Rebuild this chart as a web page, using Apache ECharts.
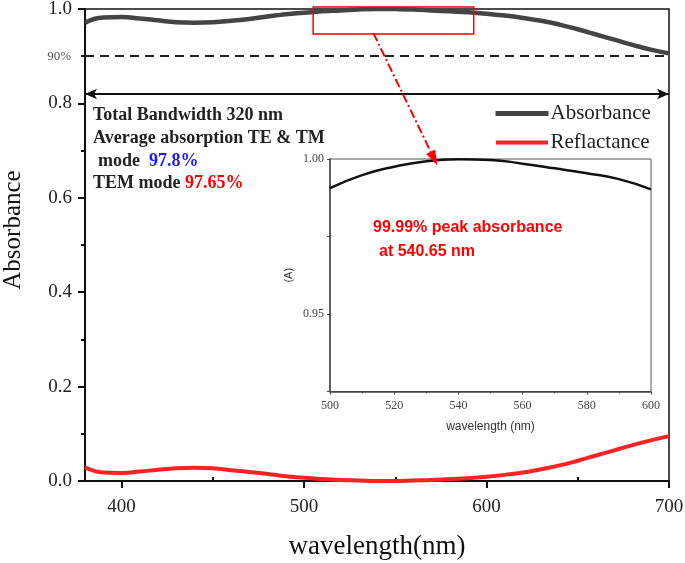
<!DOCTYPE html>
<html><head><meta charset="utf-8">
<script src="https://cdn.jsdelivr.net/npm/echarts@6/dist/echarts.min.js"></script>
<style>html,body{margin:0;padding:0;background:#fff}#c{width:685px;height:563px}</style>
</head><body><div id="c"></div>
<script>
// ---- data ----
const wavelengths = [380,390,400,410,420,430,440,450,460,470,480,490,500,510,520,530,540,550,560,570,580,590,600,610,620,630,640,650,660,670,680,690,700];
const absorbance  = [0.971,0.982,0.983,0.980,0.976,0.972,0.971,0.972,0.975,0.979,0.984,0.989,0.992,0.995,0.997,0.9992,1.000,0.9998,0.999,0.997,0.995,0.993,0.990,0.986,0.981,0.975,0.967,0.957,0.946,0.935,0.924,0.914,0.906];
const reflectance = [0.029,0.018,0.017,0.020,0.024,0.027,0.028,0.027,0.023,0.019,0.015,0.010,0.007,0.004,0.002,0.001,0.000,0.000,0.001,0.002,0.004,0.006,0.009,0.013,0.018,0.025,0.033,0.043,0.054,0.065,0.076,0.086,0.095];
const insetWavelengths = [500,510,520,530,540,550,560,570,580,590,600];
const insetAbsorbance  = [0.9906,0.9948,0.9975,0.9993,0.9999,0.9997,0.9985,0.9970,0.9954,0.9935,0.9902];
const xTickValues = [400,500,600,700];
const xMinorTickValues = [450,550,650];
const threshold = 0.9;
const bandwidthLevel = 0.824;
const zoomBox = {x0:505, x1:593, y0:0.947, y1:1.004};
const arrowFrom = [538, 0.949];
const arrowTo = [573, 0.669];

const serif = 'Liberation Serif';
const sans = 'Liberation Sans';
const chart = echarts.init(document.getElementById('c'));

const option = {
  animation:false,
  backgroundColor:'#fff',
  grid:[
    {left:85, right:16, top:9, bottom:82, show:true, borderColor:'#111', borderWidth:1.5, backgroundColor:'transparent', outerBoundsMode:'none', containLabel:false},
    {left:330, top:159, width:321, height:232.5, show:true, borderColor:'#555', borderWidth:1, backgroundColor:'#fff', outerBoundsMode:'none', containLabel:false}
  ],
  legend:{
    orient:'vertical', left:490, top:98, itemWidth:53, itemHeight:5, itemGap:8,
    data:[
      {name:'Absorbance', icon:'rect', itemStyle:{color:'#444', borderWidth:0}},
      {name:'Reflactance', icon:'rect', itemStyle:{color:'#f22', borderColor:'#fff', borderWidth:1}}
    ],
    textStyle:{fontFamily:serif, fontSize:21, color:'#222', lineHeight:20, padding:[0,0,0,-3]}
  },
  xAxis:[
    {type:'value', gridIndex:0, min:380, max:700,
     axisLine:{show:true, onZero:false, lineStyle:{color:'#111', width:2}},
     axisTick:{show:true, customValues:xTickValues, length:7, lineStyle:{color:'#111', width:2}},
     axisLabel:{customValues:xTickValues, fontFamily:serif, fontSize:19, color:'#222', margin:17},
     splitLine:{show:false},
     name:'wavelength(nm)', nameLocation:'middle', nameGap:52,
     nameTextStyle:{fontFamily:serif, fontSize:27, color:'#111'}},
    {type:'value', gridIndex:0, min:380, max:700,
     axisLine:{show:false},
     axisTick:{show:true, customValues:xMinorTickValues, length:4, lineStyle:{color:'#111', width:2}},
     axisLabel:{show:false}, splitLine:{show:false}},
    {type:'value', gridIndex:1, min:500, max:600, interval:20,
     axisLine:{show:true, onZero:false, lineStyle:{color:'#444', width:1.5}},
     axisTick:{show:true, length:3, lineStyle:{color:'#444'}},
     minorTick:{show:true, splitNumber:2, length:2, lineStyle:{color:'#444'}},
     axisLabel:{fontFamily:serif, fontSize:12, color:'#444', margin:8},
     splitLine:{show:false},
     name:'wavelength (nm)', nameLocation:'middle', nameGap:29,
     nameTextStyle:{fontFamily:sans, fontSize:12, color:'#333'}}
  ],
  yAxis:[
    {type:'value', gridIndex:0, min:0, max:1, interval:0.2,
     axisLine:{show:true, onZero:false, lineStyle:{color:'#111', width:2}},
     axisTick:{show:true, length:7, lineStyle:{color:'#111', width:2}},
     minorTick:{show:true, splitNumber:2, length:4, lineStyle:{color:'#111', width:2}},
     axisLabel:{formatter:v=>v.toFixed(1), fontFamily:serif, fontSize:19, color:'#222', margin:13},
     splitLine:{show:false},
     name:'Absorbance', nameLocation:'middle', nameGap:59,
     nameTextStyle:{fontFamily:serif, fontSize:25, color:'#111', padding:[0,0,0,30]}},
    {type:'value', gridIndex:1, min:0.925, max:1.0, interval:0.025,
     axisLine:{show:true, onZero:false, lineStyle:{color:'#444', width:1.5}},
     axisTick:{show:true, length:3, lineStyle:{color:'#444'}},
     axisLabel:{formatter:v=>(Math.abs(v*20-Math.round(v*20))<1e-6 ? v.toFixed(2) : ''),
                fontFamily:serif, fontSize:12, color:'#444', margin:6},
     splitLine:{show:false},
     name:'(A)', nameLocation:'middle', nameGap:36,
     nameTextStyle:{fontFamily:sans, fontSize:11, color:'#333'}}
  ],
  series:[
    {name:'Absorbance', type:'line', xAxisIndex:0, yAxisIndex:0, smooth:true, symbol:'none',
     data:wavelengths.map((w,i)=>[w, absorbance[i]]),
     lineStyle:{color:'#444', width:4.5}, itemStyle:{color:'#444'}, z:3,
     markLine:{silent:true, symbol:['none','none'], animation:false,
       data:[{yAxis:threshold}],
       lineStyle:{type:[9,6], color:'#222', width:2},
       label:{show:true, position:'start', formatter:'90%', fontFamily:serif, fontSize:13, color:'#555', distance:14}}},
    {name:'Reflactance', type:'line', xAxisIndex:0, yAxisIndex:0, smooth:true, symbol:'none',
     data:wavelengths.map((w,i)=>[w, reflectance[i]]),
     lineStyle:{color:'#f22', width:4}, itemStyle:{color:'#f22'}, z:3,
     markLine:{silent:true, symbol:['arrow','arrow'], symbolSize:[8,12], animation:false,
       data:[{yAxis:bandwidthLevel}],
       lineStyle:{type:'solid', color:'#111', width:2},
       label:{show:false}}},
    {name:'inset', type:'line', xAxisIndex:2, yAxisIndex:1, smooth:true, symbol:'none',
     data:insetWavelengths.map((w,i)=>[w, insetAbsorbance[i]]),
     lineStyle:{color:'#111', width:2.5}, z:4}
  ]
};
chart.setOption(option);

const px = p => chart.convertToPixel({xAxisIndex:0, yAxisIndex:0}, p);
const b0 = px([zoomBox.x0, zoomBox.y1]);
const b1 = px([zoomBox.x1, zoomBox.y0]);
const a0 = px(arrowFrom);
const a1 = px(arrowTo);
const ang = Math.atan2(a1[1]-a0[1], a1[0]-a0[0]);
const headLen = 15, headW = 5;
const base = [a1[0]-headLen*Math.cos(ang), a1[1]-headLen*Math.sin(ang)];
const head = [
  a1,
  [base[0]+headW*Math.sin(ang), base[1]-headW*Math.cos(ang)],
  [base[0]-headW*Math.sin(ang), base[1]+headW*Math.cos(ang)]
];
const boldSerif = 'bold 18px "Liberation Serif"';
chart.setOption({
  graphic:[
    {type:'rect', z:100, shape:{x:b0[0], y:b0[1], width:b1[0]-b0[0], height:b1[1]-b0[1]},
     style:{fill:'none', stroke:'#f00', lineWidth:1.5}},
    {type:'line', z:100, shape:{x1:a0[0], y1:a0[1], x2:base[0], y2:base[1]},
     style:{stroke:'#f00', lineWidth:2, lineDash:[9,3,2,3]}},
    {type:'polygon', z:100, shape:{points:head}, style:{fill:'#f00'}},
    {type:'text', z:100, style:{x:93, y:115, text:'Total Bandwidth 320 nm', font:boldSerif, fill:'#222', verticalAlign:'middle'}},
    {type:'text', z:100, style:{x:93, y:138, text:'Average absorption TE & TM', font:boldSerif, fill:'#222', verticalAlign:'middle'}},
    {type:'text', z:100, style:{x:98, y:161, text:'{a|mode  }{b|97.8%}', verticalAlign:'middle',
      rich:{a:{font:boldSerif, fill:'#222'}, b:{font:boldSerif, fill:'#1a1aff'}}}},
    {type:'text', z:100, style:{x:93, y:183, text:'{a|TEM mode }{b|97.65%}', verticalAlign:'middle',
      rich:{a:{font:boldSerif, fill:'#222'}, b:{font:boldSerif, fill:'#f00'}}}},
    {type:'text', z:100, style:{x:373, y:228, text:'99.99% peak absorbance', font:'bold 16px "Liberation Sans"', fill:'#f00', verticalAlign:'middle'}},
    {type:'text', z:100, style:{x:379, y:252, text:'at 540.65 nm', font:'bold 16px "Liberation Sans"', fill:'#f00', verticalAlign:'middle'}}
  ]
});
</script>
</body></html>
